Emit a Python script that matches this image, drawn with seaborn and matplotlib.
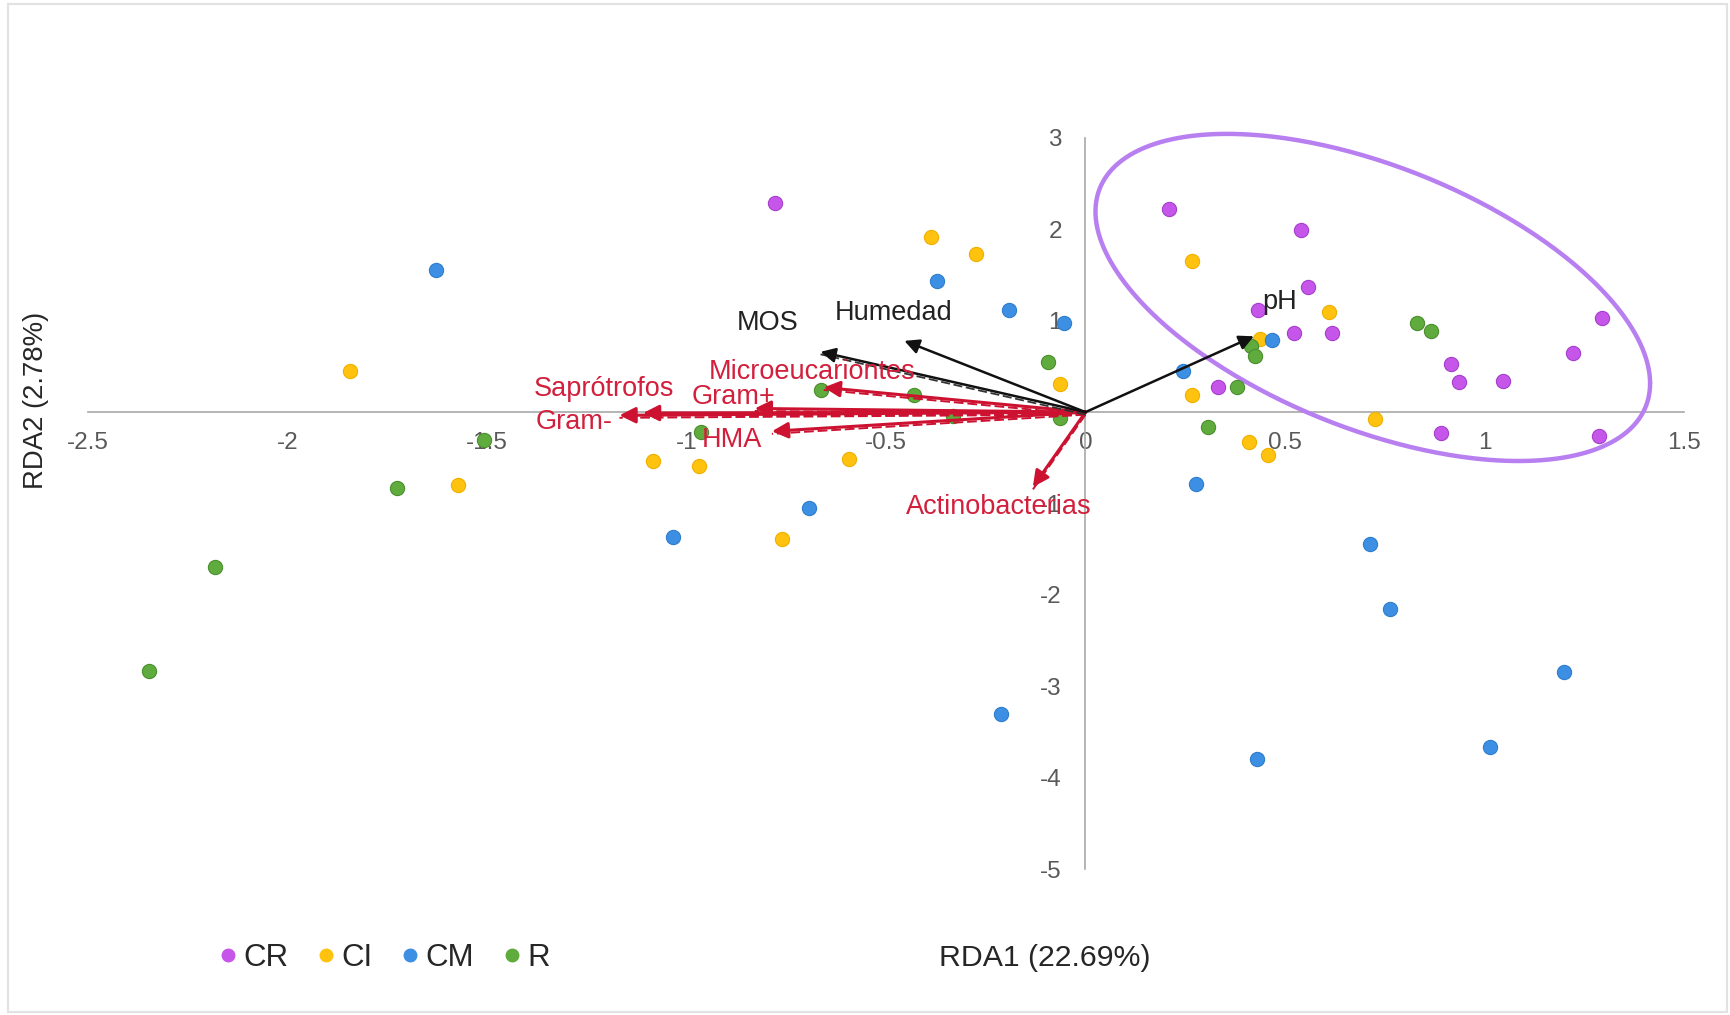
import numpy as np
import pandas as pd
import matplotlib
matplotlib.use("Agg")
import matplotlib.pyplot as plt
import matplotlib.transforms as mtransforms
from matplotlib.lines import Line2D
from matplotlib.patches import Rectangle
import seaborn as sns

# ---- sample scores on RDA1 / RDA2 ----
cr_x = [-0.778, 0.210, 0.539, 0.558, 0.432, 0.522, 0.617, 1.295, 1.222, 0.915, 0.935, 1.047, 0.331, 0.892, 1.288]
cr_y = [2.29, 2.22, 1.99, 1.37, 1.12, 0.87, 0.87, 1.03, 0.65, 0.53, 0.33, 0.34, 0.27, -0.23, -0.26]

ci_x = [-1.844, -1.572, -1.083, -0.969, -0.761, -0.592, -0.386, -0.275, -0.064, 0.266, 0.610, 0.268, 0.725, 0.409, 0.457, 0.438]
ci_y = [0.45, -0.80, -0.53, -0.59, -1.39, -0.51, 1.92, 1.73, 0.31, 1.65, 1.10, 0.19, -0.08, -0.33, -0.47, 0.80]

cm_x = [-1.628, -1.033, -0.692, -0.372, -0.192, -0.053, 0.245, 0.467, 0.278, 0.714, 0.764, 1.200, 1.014, 0.430, -0.211]
cm_y = [1.55, -1.37, -1.05, 1.43, 1.12, 0.98, 0.45, 0.79, -0.79, -1.44, -2.15, -2.84, -3.66, -3.80, -3.30]

r_x = [-2.347, -2.181, -1.725, -1.508, -0.964, -0.664, -0.431, -0.331, -0.094, -0.064, 0.308, 0.380, 0.414, 0.425, 0.832, 0.865]
r_y = [-2.83, -1.69, -0.83, -0.30, -0.22, 0.24, 0.19, -0.04, 0.55, -0.06, -0.16, 0.28, 0.72, 0.61, 0.97, 0.89]

groups = ["CR", "CI", "CM", "R"]
palette = {"CR": "#c655ea", "CI": "#ffc20e", "CM": "#3c8fe3", "R": "#5fab3d"}
edges = {"CR": "#a53fcb", "CI": "#f0b000", "CM": "#2f7dcc", "R": "#4a8f2c"}

# ---- microbial group vectors (red) ----
bio_names = ["Gram-", "Saprótrofos", "Gram+", "Microeucariontes", "HMA", "Actinobacterias"]
bio_x = [-1.168, -1.109, -0.829, -0.656, -0.786, -0.132]
bio_y = [-0.035, -0.010, 0.040, 0.270, -0.210, -0.820]

# ---- soil variable vectors (black) ----
env_names = ["MOS", "Humedad", "pH"]
env_x = [-0.664, -0.454, 0.422]
env_y = [0.66, 0.78, 0.83]

# ---- axis ticks ----
x_ticks = [-2.5, -2, -1.5, -1, -0.5, 0, 0.5, 1, 1.5]
y_ticks = [3, 2, 1, 0, -1, -2, -3, -4, -5]
x_tick_labels = ["-2.5", "-2", "-1.5", "-1", "-0.5", "0", "0.5", "1", "1.5"]
y_tick_labels = ["3", "2", "1", "", "-1", "-2", "-3", "-4", "-5"]

# ---- CR group ellipse (centre, half-ranges, phase) ----
ell_cx, ell_cy = 0.72, 1.255
ell_rx, ell_ry = 0.695, 1.79
ell_phase = np.deg2rad(121.7)

records = []
for g, xs, ys in [("CR", cr_x, cr_y), ("CI", ci_x, ci_y), ("CM", cm_x, cm_y), ("R", r_x, r_y)]:
    for a, b in zip(xs, ys):
        records.append({"group": g, "RDA1": a, "RDA2": b})
df = pd.DataFrame(records)

sns.set_style("white")
plt.rcParams["font.family"] = ["Liberation Sans", "DejaVu Sans"]

W, H = 1731, 1015
fig = plt.figure(figsize=(W / 100, H / 100), dpi=100)
fig.patch.set_facecolor("white")

left, right = 88, 1684
top, bottom = 138, 869
ax = fig.add_axes([left / W, 1 - bottom / H, (right - left) / W, (bottom - top) / H])
ax.set_facecolor("none")

# scatter of samples
for g in groups:
    sub = df[df["group"] == g]
    sns.scatterplot(data=sub, x="RDA1", y="RDA2", color=palette[g], edgecolor=edges[g],
                    linewidth=0.8, s=105, ax=ax, legend=False, zorder=3)

# group ellipse
t = np.linspace(0, 2 * np.pi, 400)
ax.plot(ell_cx + ell_rx * np.cos(t), ell_cy + ell_ry * np.cos(t + ell_phase),
        color="#b87ff0", lw=3.2, zorder=2.8, clip_on=False)

# vectors
shift = mtransforms.ScaledTranslation(0, -2.5 / 100, fig.dpi_scale_trans)
red = "#cc1230"
for vx, vy in zip(bio_x, bio_y):
    ax.plot([0, vx], [0, vy], color=red, lw=1.4, ls=(0, (5, 2)),
            transform=ax.transData + shift, zorder=4)
    ax.annotate("", xy=(vx, vy), xytext=(0, 0),
                arrowprops=dict(arrowstyle="-|>", color=red, lw=2.2,
                                mutation_scale=24, shrinkA=0, shrinkB=0),
                zorder=4)

for i, (vx, vy) in enumerate(zip(env_x, env_y)):
    if env_names[i] == "MOS":
        ax.plot([0, vx], [0, vy], color="#333333", lw=1.3, ls=(0, (5, 2)),
                transform=ax.transData + shift, zorder=4)
    ax.annotate("", xy=(vx, vy), xytext=(0, 0),
                arrowprops=dict(arrowstyle="-|>", color="#111111", lw=1.8,
                                mutation_scale=22, shrinkA=0, shrinkB=0),
                zorder=4)

# vector labels
bio_label_pos = [(-1.281, -0.11), (-1.208, 0.25), (-0.881, 0.17),
                 (-0.686, 0.435), (-0.886, -0.30), (-0.217, -1.04)]
for name, (lx, ly) in zip(bio_names, bio_label_pos):
    ax.text(lx, ly, name, color="#d21f3c", fontsize=19.5, ha="center", va="center", zorder=5)

env_label_pos = [(-0.797, 0.98), (-0.48, 1.08), (0.486, 1.20)]
for name, (lx, ly) in zip(env_names, env_label_pos):
    ax.text(lx, ly, name, color="#222222", fontsize=19.5, ha="center", va="center", zorder=5)

# cross-shaped axes through the origin
ax.set_xlim(-2.5, 1.5)
ax.set_ylim(-5, 3)
for side in ["top", "right"]:
    ax.spines[side].set_visible(False)
ax.spines["left"].set_position(("data", 0))
ax.spines["bottom"].set_position(("data", 0))
for side in ["left", "bottom"]:
    ax.spines[side].set_color("#a8a8a8")
    ax.spines[side].set_linewidth(1.2)
ax.set_xticks(x_ticks)
ax.set_xticklabels(x_tick_labels)
ax.set_yticks(y_ticks)
ax.set_yticklabels(y_tick_labels)
ax.tick_params(axis="x", length=0, pad=14, labelsize=17.5, labelcolor="#595959")
ax.tick_params(axis="y", length=0, pad=17, labelsize=17.5, labelcolor="#595959")
ax.set_xlabel("")
ax.set_ylabel("")
ax.grid(False)

# axis titles
fig.text(1045 / W, 1 - 958 / H, "RDA1 (22.69%)", fontsize=21.8, color="#262626",
         ha="center", va="center")
fig.text(36 / W, 1 - 400 / H, "RDA2 (2.78%)", fontsize=19.8, color="#262626",
         ha="center", va="center", rotation=90)

# legend
handles = [Line2D([0], [0], marker="o", ls="", markersize=9,
                  markerfacecolor=palette[g], markeredgecolor=palette[g]) for g in groups]
fig.legend(handles, groups, loc="center", bbox_to_anchor=(385 / W, 1 - 958 / H),
           ncol=4, frameon=False, fontsize=22.5, handlelength=0.5, handletextpad=0.25,
           columnspacing=0.95, labelcolor="#262626")

# thin frame around the figure
fig.add_artist(Rectangle((8 / W, 3 / H), (W - 12) / W, (H - 7) / H, transform=fig.transFigure,
                         fill=False, edgecolor="#e2e2e2", lw=1.5))

fig.savefig("out.png", dpi=100, facecolor="white")
